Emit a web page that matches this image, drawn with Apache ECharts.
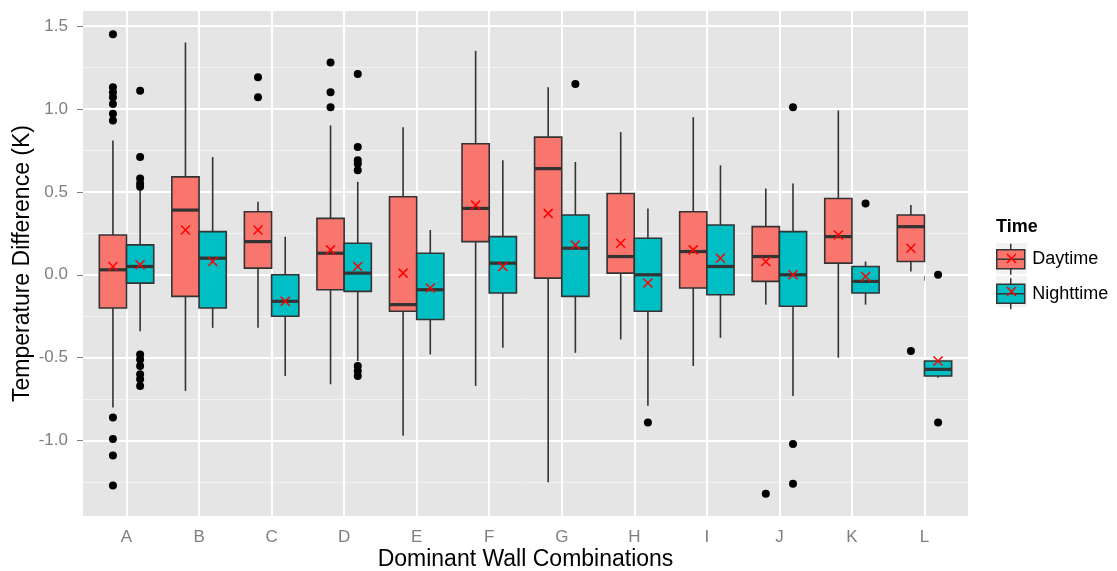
<!DOCTYPE html>
<html>
<head>
<meta charset="utf-8">
<script src="https://cdn.jsdelivr.net/npm/echarts@6/dist/echarts.min.js"></script>
<style>
  html, body { margin: 0; padding: 0; background: #fff; }
  #chart { width: 1117px; height: 571px; }
</style>
</head>
<body>
<div id="chart"></div>
<script>
// categories on the x axis
var categories = ['A', 'B', 'C', 'D', 'E', 'F', 'G', 'H', 'I', 'J', 'K', 'L'];

// box stats per category: [lower whisker, q1, median, q3, upper whisker]
var dayBox = [
    [-0.80, -0.20, 0.03, 0.24, 0.81],
    [-0.70, -0.13, 0.39, 0.59, 1.40],
    [-0.32, 0.04, 0.20, 0.38, 0.44],
    [-0.66, -0.09, 0.13, 0.34, 0.90],
    [-0.97, -0.22, -0.18, 0.47, 0.89],
    [-0.67, 0.20, 0.40, 0.79, 1.35],
    [-1.25, -0.02, 0.64, 0.83, 1.13],
    [-0.39, 0.01, 0.11, 0.49, 0.86],
    [-0.55, -0.08, 0.14, 0.38, 0.95],
    [-0.18, -0.04, 0.11, 0.29, 0.52],
    [-0.50, 0.07, 0.23, 0.46, 0.99],
    [0.02, 0.08, 0.29, 0.36, 0.42]
];
var nightBox = [
    [-0.34, -0.05, 0.05, 0.18, 0.51],
    [-0.32, -0.20, 0.10, 0.26, 0.71],
    [-0.61, -0.25, -0.16, 0.00, 0.23],
    [-0.52, -0.10, 0.01, 0.19, 0.56],
    [-0.48, -0.27, -0.09, 0.13, 0.27],
    [-0.44, -0.11, 0.07, 0.23, 0.69],
    [-0.47, -0.13, 0.16, 0.36, 0.68],
    [-0.79, -0.22, 0.00, 0.22, 0.40],
    [-0.38, -0.12, 0.05, 0.30, 0.66],
    [-0.73, -0.19, 0.00, 0.26, 0.55],
    [-0.18, -0.11, -0.04, 0.05, 0.08],
    [-0.62, -0.61, -0.57, -0.52, -0.52]
];

// means (red crosses)
var dayMean = [0.05, 0.27, 0.27, 0.15, 0.01, 0.42, 0.37, 0.19, 0.15, 0.08, 0.24, 0.16];
var nightMean = [0.06, 0.08, -0.16, 0.05, -0.08, 0.05, 0.18, -0.05, 0.10, 0.00, -0.01, -0.52];

// outliers: [category index, value]
var dayOutliers = [
    [0, 1.45], [0, 1.13], [0, 1.10], [0, 1.07], [0, 1.03], [0, 0.97], [0, 0.93],
    [0, -0.86], [0, -0.99], [0, -1.09], [0, -1.27],
    [2, 1.19], [2, 1.07],
    [3, 1.28], [3, 1.10], [3, 1.01],
    [9, -1.32],
    [11, -0.46]
];
var nightOutliers = [
    [0, 1.11], [0, 0.71], [0, 0.58], [0, 0.55], [0, 0.53],
    [0, -0.48], [0, -0.51], [0, -0.55], [0, -0.60], [0, -0.63], [0, -0.67],
    [3, 1.21], [3, 0.77], [3, 0.69], [3, 0.67], [3, 0.63],
    [3, -0.55], [3, -0.58], [3, -0.61],
    [6, 1.15],
    [7, -0.89],
    [9, 1.01], [9, -1.02], [9, -1.26],
    [10, 0.43],
    [11, 0.00], [11, -0.89]
];

var yTicks = [-1.0, -0.5, 0.0, 0.5, 1.0, 1.5];
var yMinorTicks = [-1.25, -0.75, -0.25, 0.25, 0.75, 1.25];

var DAY_COLOR = '#F8766D';
var NIGHT_COLOR = '#00BFC4';
var BOX_W = 0.375;   // each dodged box, in category units
var DODGE = 0.1875;
var LINE = '#333333';

var xTicks = categories.map(function (c, i) { return i + 1; });

function boxData(stats, shift) {
    return stats.map(function (s, i) {
        return [i + 1 + shift].concat(s);
    });
}
function meanData(vals, shift) {
    return vals.map(function (v, i) { return [i + 1 + shift, v]; });
}
function outlierData(list, shift) {
    return list.map(function (o) { return [o[0] + 1 + shift, o[1]]; });
}

function renderBox(params, api) {
    var x = api.value(0);
    var lo = api.coord([x, api.value(1)]);
    var q1 = api.coord([x, api.value(2)]);
    var md = api.coord([x, api.value(3)]);
    var q3 = api.coord([x, api.value(4)]);
    var hi = api.coord([x, api.value(5)]);
    var w = api.size([BOX_W, 0])[0];
    var color = api.visual('color');
    var lineStyle = { stroke: LINE, lineWidth: 1.6 };
    return {
        type: 'group',
        children: [
            { type: 'line', shape: { x1: hi[0], y1: hi[1], x2: q3[0], y2: q3[1] }, style: lineStyle },
            { type: 'line', shape: { x1: q1[0], y1: q1[1], x2: lo[0], y2: lo[1] }, style: lineStyle },
            {
                type: 'rect',
                shape: { x: q3[0] - w / 2, y: q3[1], width: w, height: q1[1] - q3[1] },
                style: { fill: color, stroke: LINE, lineWidth: 1.6 }
            },
            {
                type: 'line',
                shape: { x1: md[0] - w / 2, y1: md[1], x2: md[0] + w / 2, y2: md[1] },
                style: { stroke: LINE, lineWidth: 3.2 }
            }
        ]
    };
}

var crossPath = 'path://M0,0L10,10M10,0L0,10';
var keyIcon = 'path://M15.5,0V6M1.5,6H29.5V25H1.5ZM1.5,15.5H29.5M15.5,25V31';

// small red cross drawn over a legend key
function keyCross(cx, cy) {
    var s = 4.5;
    var st = { stroke: '#FF0000', lineWidth: 1.5 };
    return {
        type: 'group',
        z: 100,
        children: [
            { type: 'line', z: 100, shape: { x1: cx - s, y1: cy - s, x2: cx + s, y2: cy + s }, style: st },
            { type: 'line', z: 100, shape: { x1: cx + s, y1: cy - s, x2: cx - s, y2: cy + s }, style: st }
        ]
    };
}

var chart = echarts.init(document.getElementById('chart'), null, { renderer: 'canvas' });

var option = {
    animation: false,
    backgroundColor: '#FFFFFF',
    textStyle: { fontFamily: 'Liberation Sans, Arial, sans-serif' },
    title: {
        text: 'Time',
        left: 996,
        top: 218,
        padding: 0,
        textStyle: { fontSize: 18, fontWeight: 'bold', color: '#000000', fontFamily: 'Liberation Sans, Arial, sans-serif' }
    },
    legend: {
        data: ['Daytime', 'Nighttime'],
        orient: 'vertical',
        left: 996,
        top: 243,
        padding: 0,
        itemWidth: 31,
        itemHeight: 31,
        itemGap: 2,
        icon: keyIcon,
        itemStyle: { borderColor: LINE, borderWidth: 1.5 },
        textStyle: { fontSize: 18, color: '#000000', padding: [0, 0, 0, 1] },
        selectedMode: false
    },
    grid: {
        left: 83,
        right: 149,
        top: 11,
        bottom: 55,
        containLabel: false,
        outerBoundsMode: 'none',
        show: true,
        backgroundColor: '#E5E5E5',
        borderWidth: 0
    },
    xAxis: {
        type: 'value',
        min: 0.4,
        max: 12.6,
        name: 'Dominant Wall Combinations',
        nameLocation: 'middle',
        nameGap: 32,
        nameMoveOverlap: false,
        nameTextStyle: { fontSize: 23, color: '#000000' },
        axisLine: { show: false },
        axisTick: { show: true, customValues: xTicks, length: 6, lineStyle: { color: '#7F7F7F', width: 1 } },
        axisLabel: {
            customValues: xTicks,
            margin: 13,
            fontSize: 17,
            color: '#7F7F7F',
            formatter: function (v) { return categories[Math.round(v) - 1] || ''; }
        },
        splitLine: { show: true, lineStyle: { color: '#FFFFFF', width: 2 } }
    },
    yAxis: [
        {
            type: 'value',
            position: 'left',
            min: -1.454,
            max: 1.590,
            z: 0,
            axisLine: { show: false },
            axisTick: { show: false, customValues: yMinorTicks },
            axisLabel: { show: false, customValues: yMinorTicks },
            splitLine: { show: true, lineStyle: { color: '#F2F2F2', width: 1 } }
        },
        {
            type: 'value',
            position: 'left',
            offset: 0,
            min: -1.454,
            max: 1.590,
            z: 1,
            name: 'Temperature Difference (K)',
            nameLocation: 'middle',
            nameGap: 49,
            nameMoveOverlap: false,
            nameTextStyle: { fontSize: 23, color: '#000000' },
            axisLine: { show: false },
            axisTick: { show: true, customValues: yTicks, length: 6, lineStyle: { color: '#7F7F7F', width: 1 } },
            axisLabel: {
                customValues: yTicks,
                margin: 15,
                fontSize: 17,
                color: '#7F7F7F',
                formatter: function (v) { return v.toFixed(1); }
            },
            splitLine: { show: true, lineStyle: { color: '#FFFFFF', width: 2 } }
        }
    ],
    series: [
        {
            name: 'Daytime',
            type: 'custom',
            yAxisIndex: 1,
            renderItem: renderBox,
            itemStyle: { color: DAY_COLOR },
            encode: { x: 0, y: [1, 2, 3, 4, 5] },
            data: boxData(dayBox, -DODGE),
            z: 2
        },
        {
            name: 'Nighttime',
            type: 'custom',
            yAxisIndex: 1,
            renderItem: renderBox,
            itemStyle: { color: NIGHT_COLOR },
            encode: { x: 0, y: [1, 2, 3, 4, 5] },
            data: boxData(nightBox, DODGE),
            z: 2
        },
        {
            name: 'Daytime outliers',
            type: 'scatter',
            yAxisIndex: 1,
            symbol: 'circle',
            symbolSize: 8,
            itemStyle: { color: '#000000', opacity: 1 },
            data: outlierData(dayOutliers, -DODGE),
            z: 3
        },
        {
            name: 'Nighttime outliers',
            type: 'scatter',
            yAxisIndex: 1,
            symbol: 'circle',
            symbolSize: 8,
            itemStyle: { color: '#000000', opacity: 1 },
            data: outlierData(nightOutliers, DODGE),
            z: 3
        },
        {
            name: 'Daytime mean',
            type: 'scatter',
            yAxisIndex: 1,
            symbol: crossPath,
            symbolSize: 9,
            itemStyle: { color: 'none', borderColor: '#FF0000', borderWidth: 1.5, opacity: 1 },
            data: meanData(dayMean, -DODGE),
            z: 4
        },
        {
            name: 'Nighttime mean',
            type: 'scatter',
            yAxisIndex: 1,
            symbol: crossPath,
            symbolSize: 9,
            itemStyle: { color: 'none', borderColor: '#FF0000', borderWidth: 1.5, opacity: 1 },
            data: meanData(nightMean, DODGE),
            z: 4
        }
    ],
    graphic: [
        // legend key backgrounds and the mean cross in each key
        { type: 'rect', left: 996, top: 243, z: -1, shape: { width: 31, height: 31 }, style: { fill: '#F2F2F2' } },
        { type: 'rect', left: 996, top: 276, z: -1, shape: { width: 31, height: 31 }, style: { fill: '#F2F2F2' } },
        keyCross(1011.5, 258.5),
        keyCross(1011.5, 291.5)
    ]
};

chart.setOption(option);
</script>
</body>
</html>
